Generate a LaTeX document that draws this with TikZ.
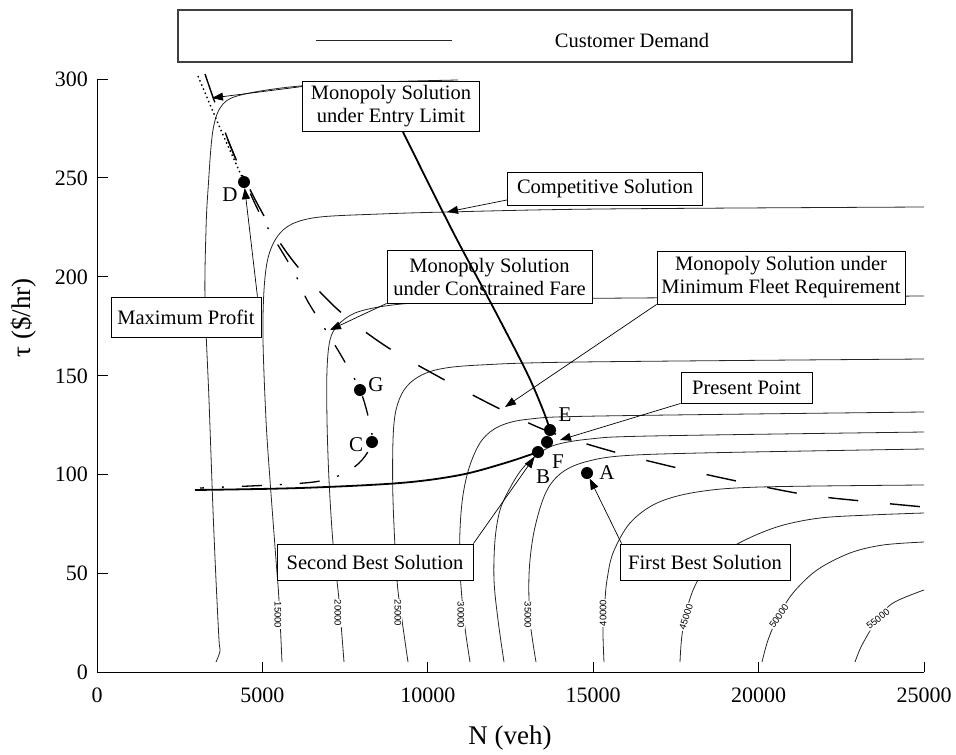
\documentclass[tikz,border=0pt]{standalone}
\usepackage{fontspec}
\setmainfont{Liberation Serif}
\newfontfamily\contourfont{Liberation Sans}
\usetikzlibrary{arrows.meta,calc}

\begin{document}
\begin{tikzpicture}[x=1pt,y=-1pt,
  demand/.style={line width=0.8pt, black!85},
  axisline/.style={line width=1pt},
  boxnode/.style={draw, line width=0.9pt, fill=white, align=center,
    inner xsep=3pt, inner ysep=2pt, font=\fontsize{20.5}{23}\selectfont},
  legendbox/.style={draw=black!75, line width=1.2pt, minimum width=674pt, minimum height=52pt},
  ptr/.style={line width=0.7pt, -{Triangle[length=11pt,width=8pt]}},
  dot/.style={circle, fill=black, minimum size=12pt, inner sep=0pt},
  ptlabel/.style={font=\fontsize{21}{23}\selectfont, inner sep=0pt},
  ticklab/.style={font=\fontsize{22}{24}\selectfont, inner sep=0pt},
  axtitle/.style={font=\fontsize{27}{30}\selectfont, inner sep=0pt},
  clab/.style={font=\contourfont\fontsize{9.5}{10}\selectfont, fill=white, inner sep=1pt},
  heavy/.style={line width=1.8pt},
  longdash/.style={line width=1.4pt, dash pattern=on 30pt off 32pt},
  dashdot/.style={line width=1.3pt, dash pattern=on 20pt off 18pt on 2pt off 18pt},
  dotline/.style={line width=1.4pt, dash pattern=on 1.5pt off 3pt},
  smoothcurve/.style={smooth, tension=0.55}
]
\useasboundingbox (0,0) rectangle (956,755);

% ---------- legend ----------
\node[legendbox] (legend) at (515,36) {};
\coordinate (legL) at (316,40);
\coordinate (legR) at (452,40);
\draw[demand] (legL) -- (legR);
\node[font=\fontsize{20.5}{23}\selectfont] (legtext) at (632,40) {Customer Demand};

% ---------- axes ----------
\coordinate (origin) at (97,672);
\coordinate (ytop) at (97,79);
\coordinate (xend) at (924,672);
\draw[axisline] (ytop) -- (origin) -- (xend);
\foreach \v in {0,50,...,300}{
  \pgfmathsetmacro\yy{672-\v*1.97667}
  \draw[axisline] (97,\yy) -- (108,\yy);
  \node[ticklab, anchor=base east] at (88,\yy+7.5) {\v};
}
\foreach \k/\lab in {0/0,1/5000,2/10000,3/15000,4/20000,5/25000}{
  \pgfmathsetmacro\xx{97+\k*165.4}
  \draw[axisline] (\xx,672) -- (\xx,662);
  \node[ticklab, anchor=base] at (\xx,702) {\lab};
}
\node[axtitle] (xtitle) at (510,738) {N (veh)};
\node[axtitle, rotate=90] (ytitle) at (24,318) {τ (\$/hr)};

% ---------- iso-demand curves ----------
\draw[demand] plot[smoothcurve] coordinates {(216,662) (220,651) (219,640) (216,580) (213,510) (209,400) (205,300) (206,230) (208,190) (213,130) (223,104) (245,94) (300,86) (380,82) (458,80)};
\draw[demand] plot[smoothcurve] coordinates {(282,662) (279,600) (276,560) (270,480) (266,420) (263,340) (264,290) (268,258) (277,237) (292,224) (320,217) (380,214) (447,212) (600,209) (924,207)};
\draw[demand] plot[smoothcurve] coordinates {(344,662) (339,600) (333,543) (329,480) (327,420) (327,370) (330,340) (338,325) (355,313) (385,306) (430,302) (520,299) (924,296)};
\draw[demand] plot[smoothcurve] coordinates {(408,662) (402,620) (397,580) (393,500) (393,440) (396,410) (404,390) (418,377) (440,369) (480,365) (580,362) (924,359)};
\draw[demand] plot[smoothcurve] coordinates {(470,662) (464,620) (460,570) (460,530) (463,495) (470,465) (482,440) (500,426) (530,419) (600,416) (924,412)};
\draw[demand] plot[smoothcurve] coordinates {(504,662) (498,620) (494,580) (495,540) (500,510) (510,488) (522,469) (537,455) (555,445) (590,439) (650,436) (924,432)};
\draw[demand] plot[smoothcurve] coordinates {(536,662) (530,620) (529,575) (533,537) (541,505) (550,485) (564,471) (585,462) (620,456) (700,453) (924,449)};
\draw[demand] plot[smoothcurve] coordinates {(604,662) (603,630) (605,600) (607,580) (613,553) (630,523) (657,503) (697,492) (760,487) (924,485)};
\draw[demand] plot[smoothcurve] coordinates {(680,662) (682,635) (688,605) (698,580) (717,557) (745,540) (780,526) (820,518) (870,515) (924,513)};
\draw[demand] plot[smoothcurve] coordinates {(762,662) (768,640) (778,617) (793,593) (817,570) (850,553) (883,545) (924,542)};
\draw[demand] plot[smoothcurve] coordinates {(855,662) (862,645) (877,620) (893,603) (924,590)};

% contour values
\node[clab, rotate=-90] (c15) at (278,615) {15000};
\node[clab, rotate=-90] (c20) at (338,613) {20000};
\node[clab, rotate=-90] (c25) at (398,613) {25000};
\node[clab, rotate=-90] (c30) at (461,615) {30000};
\node[clab, rotate=-90] (c35) at (528,615) {35000};
\node[clab, rotate=90] (c40) at (603,613) {40000};
\node[clab, rotate=72] (c45) at (686,617) {45000};
\node[clab, rotate=55] (c50) at (779,616) {50000};
\node[clab, rotate=38] (c55) at (878,619) {55000};

% ---------- solution loci ----------
\draw[dotline] plot[smoothcurve] coordinates {(198,76) (220,128) (242,177)};
\draw[longdash] plot[smoothcurve] coordinates {(205,74) (214,100) (232,150) (258,205) (290,257) (335,307) (384,345) (441,378) (498,408) (550,432) (618,453) (682,469) (746,483) (808,495) (872,502) (924,507)};
\draw[dashdot] plot[smoothcurve] coordinates {(228,140) (258,210) (294,272) (307,300) (325,329) (342,357) (360,390) (369,420) (372,442) (362,460) (345,473) (320,481) (290,484) (250,486) (200,488)};

% ---------- points ----------
\node[dot] (D) at (244,182) {};
\node[dot] (G) at (360,390) {};
\node[dot] (C) at (372,442) {};
\node[dot] (E) at (550,430) {};
\node[dot] (F) at (547,442) {};
\node[dot] (B) at (538,452) {};
\node[dot] (A) at (587,473) {};

% heavy curves
\draw[heavy] plot[smoothcurve] coordinates {(195,490) (300,488) (400,483) (460,475) (505,463) (538,452)};

% ---------- annotation boxes ----------
\node[boxnode, minimum width=177pt, minimum height=50pt] (entry) at (391,106) {Monopoly Solution\\under Entry Limit};
\node[boxnode, minimum width=195pt, minimum height=33pt] (comp) at (605,189) {Competitive Solution};
\node[boxnode, minimum width=205pt, minimum height=53pt] (cfare) at (489.5,276.5) {Monopoly Solution\\under Constrained Fare};
\node[boxnode, minimum width=248pt, minimum height=53pt] (fleet) at (781,277.5) {Monopoly Solution under\\Minimum Fleet Requirement};
\node[boxnode, minimum width=150pt, minimum height=40pt] (maxp) at (186,317) {Maximum Profit};
\node[boxnode, minimum width=131pt, minimum height=31pt] (present) at (746.5,387.5) {Present Point};
\node[boxnode, minimum width=196pt, minimum height=36pt] (second) at (375,562) {Second Best Solution};
\node[boxnode, minimum width=170pt, minimum height=36pt] (first) at (705,562) {First Best Solution};

\draw[heavy] plot[smoothcurve] coordinates {(403,132) (452,230) (493,307) (527,373) (543,410) (549,427)};

% ---------- pointers ----------
\coordinate (elTip) at (212,98);
\coordinate (compTip) at (447,212);
\coordinate (cfTip) at (330,330);
\coordinate (flTip) at (505,407);
\coordinate (ppTip) at (560,440);
\draw[ptr] ($(entry.north west)+(0,6)$) -- (elTip);
\draw[ptr] ($(comp.south west)+(0,-6)$) -- (compTip);
\draw[ptr] (cfare.south west) -- (cfTip);
\draw[ptr] (fleet.south west) -- (flTip);
\draw[ptr] ($(maxp.north east)+(-4,0)$) -- (D);
\draw[ptr] (present.south west) -- (ppTip);
\draw[ptr] (second.north east) -- (B);
\draw[ptr] ($(first.north west)+(2,0)$) -- (A);

% point letters
\node[ptlabel] (Dl) at (230,195) {D};
\node[ptlabel] (Gl) at (376,385) {G};
\node[ptlabel] (Cl) at (356,445) {C};
\node[ptlabel] (El) at (565,415) {E};
\node[ptlabel] (Fl) at (558,462) {F};
\node[ptlabel] (Bl) at (543,477) {B};
\node[ptlabel] (Al) at (607,473) {A};
\end{tikzpicture}
\end{document}
